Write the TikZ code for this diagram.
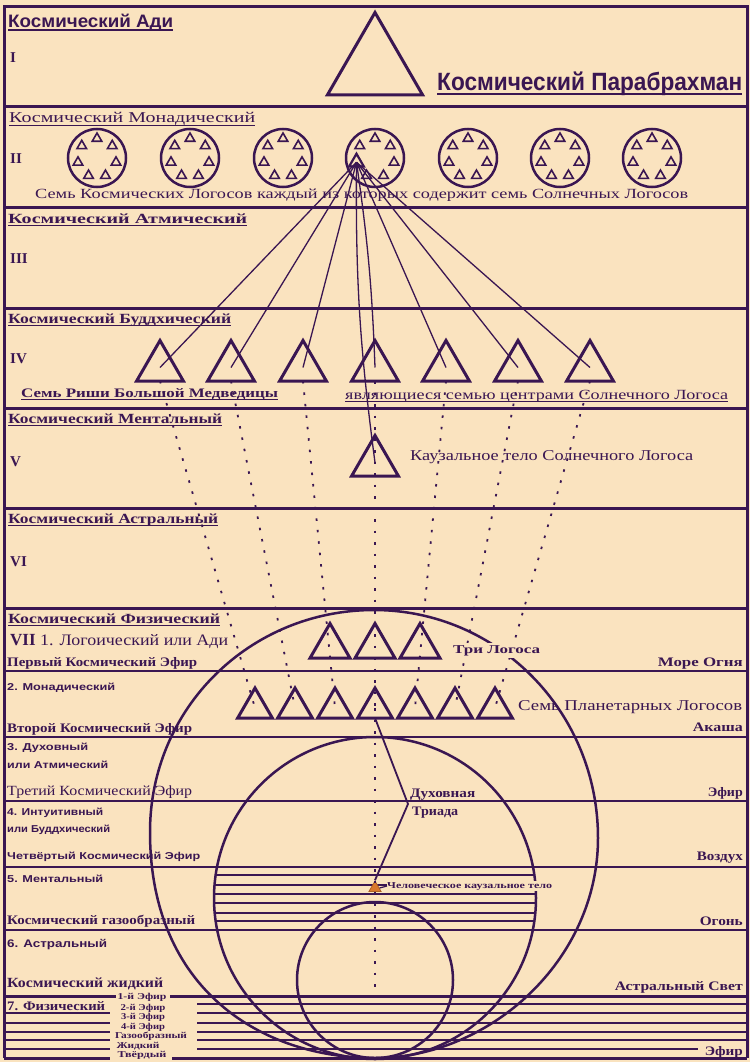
\documentclass[tikz,border=0pt]{standalone}
\usepackage{fontspec}
\setmainfont{Liberation Serif}
\setsansfont{Liberation Sans}
\usetikzlibrary{shapes.geometric}
\definecolor{paper}{HTML}{FAE3BF}
\definecolor{ink}{HTML}{3A1652}
\definecolor{ochre}{HTML}{D9782D}
% stretch a text to a given width, keeping its height
\newcommand{\fitw}[2]{\resizebox{#1}{\height}{#2}}

\begin{document}
\begin{tikzpicture}[
  x=1pt, y=-1pt,
  band/.style={ink, line width=3},
  subband/.style={ink, line width=2},
  fine/.style={ink, line width=1.2},
  orb/.style={ink, line width=2.5},
  thread/.style={ink, line width=1.3},
  ray/.style={ink, line width=1.8, dash pattern=on 2.5pt off 9pt},
  uline/.style={ink, line width=1.3},
  tri/.style={draw=ink, regular polygon, regular polygon sides=3,
              inner sep=0pt, outer sep=0pt, line width=3},
  bigtri/.style={tri, minimum size=110},
  rishi/.style={tri, minimum size=54},
  logos/.style={tri, minimum size=46},
  planet/.style={tri, minimum size=40},
  mini/.style={tri, minimum size=11, line width=1.6},
  cosmos/.style={circle, draw=ink, line width=2.5, minimum size=58, inner sep=0pt},
  lbl/.style={text=ink, inner sep=0pt, anchor=base west},
  rlbl/.style={lbl, anchor=base east, font=\bfseries\fontsize{13}{13}\selectfont},
  head/.style={lbl, font=\bfseries\fontsize{14}{14}\selectfont},
  numl/.style={lbl, font=\bfseries\fontsize{15}{15}\selectfont},
  ethl/.style={lbl, font=\bfseries\fontsize{13}{13}\selectfont},
  subl/.style={lbl, font=\sffamily\bfseries\fontsize{10}{10}\selectfont},
  phl/.style={text=ink, inner sep=0pt, font=\bfseries\fontsize{9}{9}\selectfont},
]
\fill[paper] (0,0) rectangle (750,1062);
\useasboundingbox (0,0) rectangle (750,1062);

% frame and planes
\draw[band] (4,1058) -- (4,7) -- (747,7) -- (747,1058);
\foreach \y in {107,207,308,408,508,608} \draw[band] (4,\y) -- (747,\y);
\foreach \y in {671,737,801,867,930} \draw[subband] (4,\y) -- (747,\y);
\draw[band] (4,996) -- (116,996);
\draw[band] (170,996) -- (747,996);
\draw[band] (4,1058) -- (110,1058);
\draw[band] (172,1058) -- (747,1058);
\foreach \y in {1013,1023,1032,1040,1049} \draw[fine] (4,\y) -- (110,\y);
\foreach \y in {1004,1023,1032,1040} \draw[fine] (197,\y) -- (747,\y);
\draw[subband] (197,1013) -- (747,1013);
\draw[fine] (197,1049) -- (698,1049);

% the three spheres
\draw[orb] (375,1058) .. controls (262,1058) and (150,990) .. (150,832)
  .. controls (150,708) and (250,610) .. (374,610)
  .. controls (498,610) and (598,712) .. (598,838)
  .. controls (598,960) and (490,1058) .. (375,1058);
\draw[orb] (375,898) circle (161);
\draw[orb] (375,980) circle (78);
\begin{scope}
  \clip (375,898) circle (161);
  \foreach \y in {875,885,894,903,913,921} \draw[fine] (200,\y) -- (550,\y);
\end{scope}

% plane I
\node[bigtri] (para) at (375,67.5) {};

% plane II: seven cosmic logoi
\foreach \i/\x in {1/97,2/190,3/283,4/375,5/468,6/560,7/652}{
  \node[cosmos] (c\i) at (\x,158) {};
  \foreach \j/\a in {1/90,2/141.4,3/38.6,4/347.1,5/295.7,6/244.3}
    \node[mini] (t\i-\j) at ([shift={(\a:19.5pt)}]c\i.center) {};
}
\foreach \i in {1,2,3,5,6,7}
  \node[mini] (t\i-7) at ([shift={(192.9:19.5pt)}]c\i.center) {};
\node[mini, minimum size=17, line width=2.2] (fan) at ([shift={(192.9:19pt)}]c4.center) {};

% plane IV, V
\foreach \i/\x in {1/160,2/231,3/303,4/375,5/446,6/518,7/590}
  \node[rishi] (r\i) at (\x,367.5) {};
\node[rishi] (solar) at (375,462.5) {};

% plane VII
\foreach \i/\x in {1/330,2/375,3/420} \node[logos] (l\i) at (\x,646.5) {};
\foreach \i/\x in {1/255,2/295,3/335,4/375,5/415,6/455,7/495}
  \node[planet] (p\i) at (\x,708) {};
\node[regular polygon, regular polygon sides=3, fill=ochre, draw=ochre!80!black,
      line width=0.8, minimum size=14, inner sep=0pt] (man) at (375,888) {};
\coordinate (triad) at (408,804);
\coordinate (rayend) at (375,990);

% connectors
\foreach \i in {1,2,3,5,6,7} \draw[thread] (fan.center) -- (r\i.center);
\draw[thread] (fan.center) to[bend right=4] (solar.center);
\draw[thread] (fan.center) to[bend left=3] (r4.center);
\foreach \i in {1,...,7} \draw[ray] (r\i.south) -- (p\i.center);
\draw[ray] (p4.center) -- (rayend);
\draw[thread, line width=1.8] (p4.south) -- (triad) -- (man.north);

% headings of the planes
\node[lbl, font=\sffamily\bfseries\fontsize{18}{18}\selectfont] (hAdi) at (8,27.5) {\fitw{165pt}{Космический Ади}};
\node[lbl, font=\sffamily\bfseries\fontsize{25}{25}\selectfont] (hPara) at (437,91) {\fitw{305pt}{Космический Парабрахман}};
\node[lbl, font=\fontsize{15}{15}\selectfont] (hMon) at (9,123) {\fitw{246pt}{Космический Монадический}};
\node[head] (hAtm) at (8,223) {\fitw{239pt}{Космический Атмический}};
\node[head] (hBud) at (8,323) {\fitw{223pt}{Космический Буддхический}};
\node[head] (hMen) at (8,423) {\fitw{214pt}{Космический Ментальный}};
\node[head] (hAst) at (8,523) {\fitw{210pt}{Космический Астральный}};
\node[head] (hPhy) at (8,623) {\fitw{212pt}{Космический Физический}};
\node[numl] (nI) at (10,63) {I};
\node[numl] (nII) at (10,163) {II};
\node[numl] (nIII) at (10,263) {III};
\node[numl] (nIV) at (10,363) {IV};
\node[numl] (nV) at (10,466) {V};
\node[numl] (nVI) at (10,566) {VI};
\node[lbl, font=\bfseries\fontsize{17}{17}\selectfont] (nVII) at (10,645) {VII};

% captions
\node[lbl, font=\fontsize{14}{14}\selectfont] (seven) at (35,198)
  {\fitw{653pt}{Семь Космических Логосов каждый из которых содержит семь Солнечных Логосов}};
\node[lbl, font=\bfseries\fontsize{13}{13}\selectfont] (rishi) at (21,397) {\fitw{257pt}{Семь Риши Большой Медведицы}};
\node[lbl, font=\fontsize{14}{14}\selectfont] (centres) at (345,399) {\fitw{383pt}{являющиеся семью центрами Солнечного Логоса}};
\node[lbl, font=\fontsize{15}{15}\selectfont] (causal) at (410,460) {\fitw{283pt}{Каузальное тело Солнечного Логоса}};
\node[lbl, font=\bfseries\fontsize{12}{12}\selectfont, fill=paper, inner sep=2pt] (three) at (451,653) {\fitw{87pt}{Три Логоса}};
\node[lbl, font=\fontsize{15}{15}\selectfont] (planlog) at (518,710) {\fitw{224pt}{Семь Планетарных Логосов}};
\node[lbl, font=\bfseries\fontsize{13}{13}\selectfont] (triad1) at (410,797) {\fitw{65pt}{Духовная}};
\node[lbl, font=\bfseries\fontsize{13}{13}\selectfont] (triad2) at (412,815) {\fitw{46pt}{Триада}};
\node[lbl, font=\bfseries\fontsize{9}{9}\selectfont, fill=paper, inner ysep=1pt] (human) at (387,888) {\fitw{165pt}{Человеческое каузальное тело}};
\draw[fine] (man.east) -- (human.west);

% left column of the physical plane
\node[lbl, font=\fontsize{16}{16}\selectfont] (logoic) at (40,645) {\fitw{188pt}{1. Логоический или Ади}};
\node[ethl] (eth1) at (7,666) {\fitw{190pt}{Первый Космический Эфир}};
\node[subl] (sub2) at (7,690) {\fitw{108pt}{2. Монадический}};
\node[ethl] (eth2) at (7,732) {\fitw{185pt}{Второй Космический Эфир}};
\node[subl] (sub3a) at (7,750) {\fitw{81pt}{3. Духовный}};
\node[subl] (sub3b) at (7,768) {\fitw{101pt}{или Атмический}};
\node[lbl, font=\fontsize{14}{14}\selectfont] (eth3) at (7,795) {\fitw{185pt}{Третий Космический Эфир}};
\node[subl] (sub4a) at (7,815) {\fitw{96pt}{4. Интуитивный}};
\node[subl] (sub4b) at (7,832) {\fitw{103pt}{или Буддхический}};
\node[subl] (eth4) at (7,859) {\fitw{193pt}{Четвёртый Космический Эфир}};
\node[subl] (sub5) at (7,882) {\fitw{96pt}{5. Ментальный}};
\node[ethl] (gas) at (7,924) {\fitw{188pt}{Космический газообразный}};
\node[subl, font=\sffamily\bfseries\fontsize{11}{11}\selectfont] (sub6) at (7,947) {\fitw{100pt}{6. Астральный}};
\node[lbl, font=\bfseries\fontsize{14}{14}\selectfont] (liq) at (7,987) {\fitw{156pt}{Космический жидкий}};
\node[ethl] (sub7) at (7,1010) {\fitw{98pt}{7. Физический}};

% right column
\node[rlbl] (sea) at (743,666) {\fitw{85pt}{Море Огня}};
\node[rlbl] (akasha) at (743,731) {\fitw{50pt}{Акаша}};
\node[rlbl] (ether) at (743,796) {\fitw{35pt}{Эфир}};
\node[rlbl] (air) at (743,860) {\fitw{46pt}{Воздух}};
\node[rlbl] (fire) at (743,925) {\fitw{43pt}{Огонь}};
\node[rlbl] (astlight) at (743,990) {\fitw{128pt}{Астральный Свет}};
\node[rlbl] (ether2) at (743,1055) {\fitw{38pt}{Эфир}};

% physical sub-planes
\node[phl] (e1) at (142,997) {\fitw{49pt}{1-й Эфир}};
\node[phl] (e2) at (143,1008) {\fitw{45pt}{2-й Эфир}};
\node[phl] (e3) at (143,1017) {\fitw{44pt}{3-й Эфир}};
\node[phl] (e4) at (143,1027) {\fitw{44pt}{4-й Эфир}};
\node[phl] (gasf) at (151,1036) {\fitw{72pt}{Газообразный}};
\node[phl] (liqf) at (138,1046) {\fitw{43pt}{Жидкий}};
\node[phl] (solid) at (142,1055) {\fitw{49pt}{Твёрдый}};

% underlines
\foreach \n in {hMon,hAtm,hBud,hMen,hAst,hPhy,rishi,centres}
  \draw[uline] ([yshift=-2.2pt]\n.base west) -- ([yshift=-2.2pt]\n.base east);
\draw[uline, line width=1.6] ([yshift=-2.3pt]hAdi.base west) -- ([yshift=-2.3pt]hAdi.base east);
\draw[uline, line width=2.5] ([yshift=-3pt]hPara.base west) -- ([yshift=-3pt]hPara.base east);
\end{tikzpicture}
\end{document}
